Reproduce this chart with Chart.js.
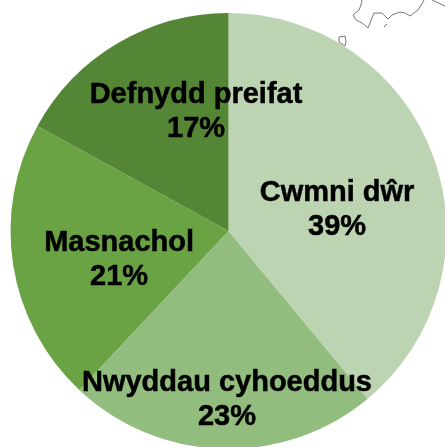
<!DOCTYPE html>
<html lang="cy">
<head>
<meta charset="utf-8">
<style>
    html, body { margin: 0; padding: 0; background: #fff; width: 445px; height: 447px; overflow: hidden; }
    canvas { position: absolute; left: 0; top: 0; }
</style>
<script src="https://cdn.jsdelivr.net/npm/chart.js@4"></script>
</head>
<body>
<canvas id="pieChart" width="457" height="462"></canvas>
<script>
const categories = ['Cwmni dŵr', 'Nwyddau cyhoeddus', 'Masnachol', 'Defnydd preifat'];
const shares = [39, 23, 21, 17];
const sliceColours = ['#BDD4B2', '#93BC7F', '#69A343', '#558636'];
// label centres, relative to the pie centre, in radii
const labelSpots = [[0.498, -0.096], [-0.007, 0.775], [-0.502, 0.131], [-0.149, -0.546]];

// map outline that pokes out behind the pie in the original
const coast = [
    [[362, 0], [361, 5], [359, 10], [353, 15], [356, 20], [362, 23], [368, 28], [372, 18], [374, 13], [382, 13], [388, 19], [392, 15], [400, 12], [405, 13], [410, 16], [418, 10], [423, 2], [424, 0]],
    [[432, 0], [445, 6]],
    [[384, 27], [387, 24]],
    [[345, 46], [339, 42], [339, 37], [345, 36], [346, 41], [345, 46]]
];

const slicePlugin = {
    id: 'sliceLabels',
    beforeDatasetsDraw(chart) {
        const c = chart.ctx;
        c.save();
        c.strokeStyle = '#777';
        c.lineWidth = 1;
        coast.forEach(line => {
            c.beginPath();
            line.forEach((p, i) => i ? c.lineTo(p[0], p[1]) : c.moveTo(p[0], p[1]));
            c.stroke();
        });
        c.restore();
    },
    afterDatasetsDraw(chart) {
        const c = chart.ctx;
        const arcs = chart.getDatasetMeta(0).data;
        c.save();
        c.fillStyle = '#000';
        c.strokeStyle = '#000';
        c.lineWidth = 0.5; // the original text looks a touch heavier
        c.font = 'bold 29px "Liberation Sans", Arial, sans-serif';
        c.textAlign = 'center';
        c.textBaseline = 'middle';
        arcs.forEach((arc, i) => {
            const x = arc.x + labelSpots[i][0] * arc.outerRadius;
            const y = arc.y + labelSpots[i][1] * arc.outerRadius;
            c.fillText(categories[i], x, y - 17);
            c.strokeText(categories[i], x, y - 17);
            c.fillText(shares[i] + '%', x, y + 17);
            c.strokeText(shares[i] + '%', x, y + 17);
        });
        c.restore();
    }
};

new Chart(document.getElementById('pieChart').getContext('2d'), {
    type: 'pie',
    data: {
        labels: categories,
        datasets: [{
            data: shares,
            backgroundColor: sliceColours,
            borderWidth: 0
        }]
    },
    options: {
        responsive: false,
        animation: false,
        layout: { padding: { left: 10.5, right: 10.5, top: 13, bottom: 13 } },
        plugins: {
            legend: { display: false },
            tooltip: { enabled: false }
        }
    },
    plugins: [slicePlugin]
});
</script>
</body>
</html>
